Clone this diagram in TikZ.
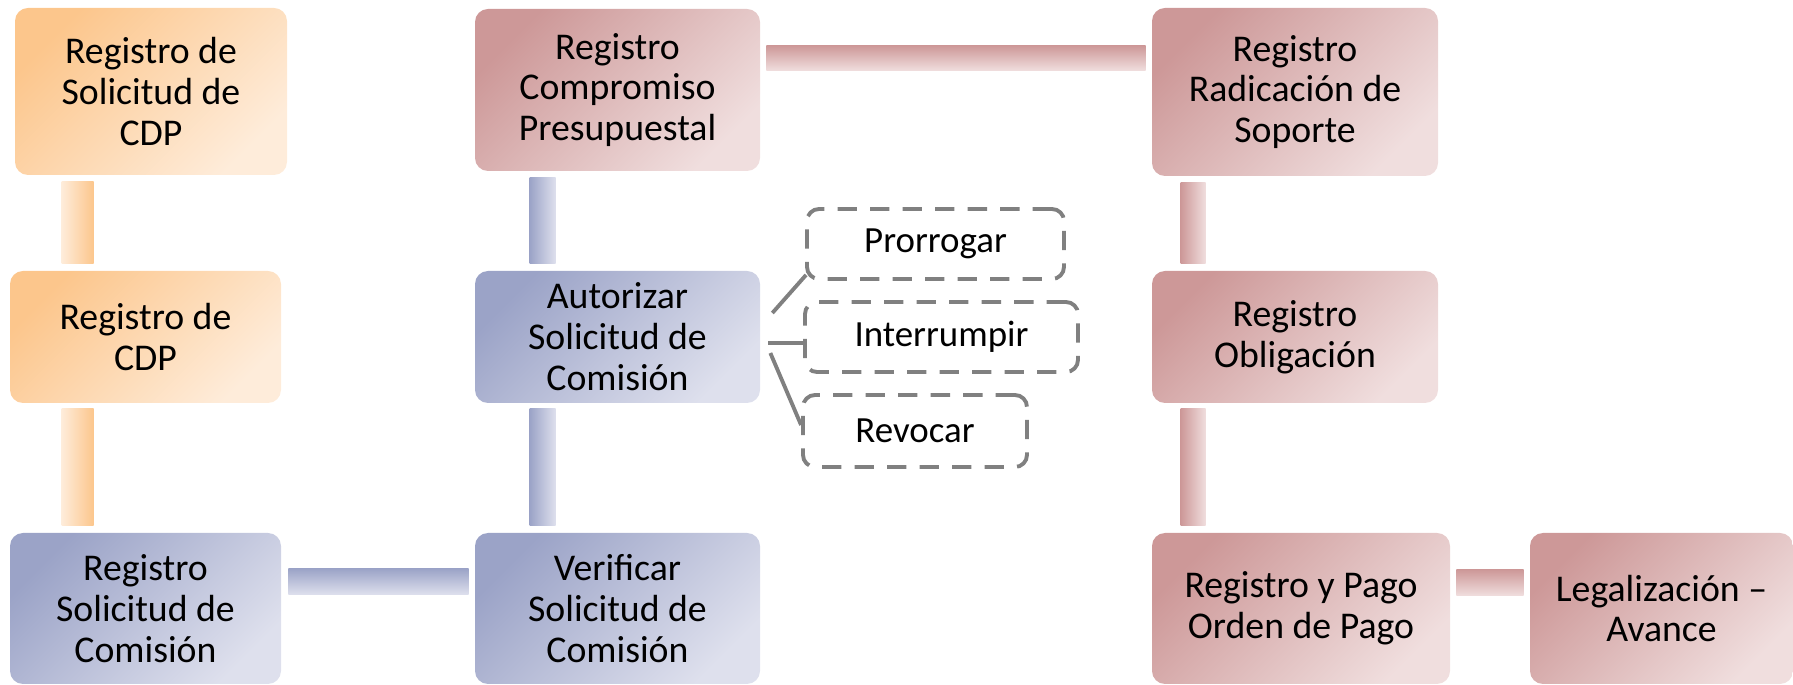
\documentclass[tikz,border=0pt]{standalone}
\usepackage{fontspec}
\setmainfont{Carlito}
\usetikzlibrary{calc}

\definecolor{orgdark}{RGB}{252,198,140}
\definecolor{orglight}{RGB}{254,236,218}
\definecolor{bludark}{RGB}{155,163,199}
\definecolor{blulight}{RGB}{222,224,237}
\definecolor{rosdark}{RGB}{205,152,152}
\definecolor{roslight}{RGB}{240,222,222}
\definecolor{dashgray}{RGB}{128,128,128}

\begin{document}
\begin{tikzpicture}[x=0.02cm, y=-0.02cm,
    stepbox/.style={rounded corners=0.26cm, inner sep=0pt, align=center,
        font=\fontsize{21.5}{23.3}\selectfont},
    orgbox/.style={stepbox, top color=orgdark, bottom color=orglight, shading angle=45},
    blubox/.style={stepbox, top color=bludark, bottom color=blulight, shading angle=45},
    rosbox/.style={stepbox, top color=rosdark, bottom color=roslight, shading angle=45},
    optbox/.style={draw=dashgray, line width=2.2pt, dash pattern=on 11pt off 7.5pt,
        rounded corners=0.24cm, inner sep=0pt, font=\fontsize{21}{23}\selectfont},
    optline/.style={draw=dashgray, line width=2.2pt},
    orgbar/.style={left color=orglight, right color=orgdark},
    bluvbar/.style={left color=bludark, right color=blulight},
    rosvbar/.style={left color=rosdark, right color=roslight},
    bluhbar/.style={top color=bludark, bottom color=blulight},
    roshbar/.style={top color=rosdark, bottom color=roslight}
]
    % Definitions
    \def \px{0.02cm}
    \useasboundingbox (0,0) rectangle (1793,685);
    %%%
    %%% Process boxes
    %%%
    % First column
    \node[orgbox, minimum width=272*\px, minimum height=167*\px] (solcdp) at (151,91.5) {Registro de\\Solicitud de\\CDP};
    \node[orgbox, minimum width=271*\px, minimum height=132*\px] (regcdp) at (145.5,337) {Registro de\\CDP};
    \node[blubox, minimum width=271*\px, minimum height=151*\px] (solcom) at (145.5,608.5) {Registro\\Solicitud de\\Comisión};
    % Second column
    \node[rosbox, minimum width=285*\px, minimum height=162*\px] (compro) at (617.5,90) {Registro\\Compromiso\\Presupuestal};
    \node[blubox, minimum width=285*\px, minimum height=132*\px] (autsol) at (617.5,337) {Autorizar\\Solicitud de\\Comisión};
    \node[blubox, minimum width=285*\px, minimum height=151*\px] (versol) at (617.5,608.5) {Verificar\\Solicitud de\\Comisión};
    % Third column
    \node[rosbox, minimum width=286*\px, minimum height=168*\px] (radsop) at (1295,92) {Registro\\Radicación de\\Soporte};
    \node[rosbox, minimum width=286*\px, minimum height=132*\px] (regobl) at (1295,337) {Registro\\Obligación};
    \node[rosbox, minimum width=298*\px, minimum height=151*\px] (regpag) at (1301,608.5) {Registro y Pago\\Orden de Pago};
    \node[rosbox, minimum width=263*\px, minimum height=151*\px] (legava) at (1661.5,608.5) {Legalización –\\Avance};
    %%%
    %%% Bars between boxes
    %%%
    \shade[orgbar] ($(solcdp.south -| regcdp.west)+(52,6)$) rectangle ($(regcdp.north west)+(84,-7)$);
    \shade[orgbar] ($(regcdp.south west)+(52,5)$) rectangle ($(solcom.north west)+(84,-7)$);
    \shade[bluhbar] ($(solcom.north east)+(7,36)$) rectangle ($(versol.north west)+(-6,62)$);
    \shade[bluvbar] ($(versol.north west)+(55,-7)$) rectangle ($(autsol.south west)+(81,5)$);
    \shade[bluvbar] ($(autsol.north west)+(55,-7)$) rectangle ($(compro.south west)+(81,6)$);
    \shade[roshbar] ($(compro.north east)+(6,37)$) rectangle ($(radsop.north west)+(-6,63)$);
    \shade[rosvbar] ($(radsop.south west)+(29,6)$) rectangle ($(regobl.north west)+(54,-7)$);
    \shade[rosvbar] ($(regobl.south west)+(29,5)$) rectangle ($(regpag.north west)+(54,-7)$);
    \shade[roshbar] ($(regpag.north east)+(6,37)$) rectangle ($(legava.north west)+(-6,63)$);
    %%%
    %%% Options of the authorisation
    %%%
    \node[optbox, minimum width=257*\px, minimum height=70*\px] (prorro) at (935.5,244) {Prorrogar};
    \node[optbox, minimum width=273*\px, minimum height=70*\px] (interr) at (941.5,337) {Interrumpir};
    \node[optbox, minimum width=224*\px, minimum height=72*\px] (revoca) at (915,431) {Revocar};
    \draw[optline] ($(autsol.east)+(12,-24)$) -- ($(prorro.south west)+(1,-6)$);
    \draw[optline] ($(autsol.east)+(8,6)$) -- ($(interr.west)+(0,6)$);
    \draw[optline] ($(autsol.east)+(10,16)$) -- ($(revoca.west)+(0,-6)$);
\end{tikzpicture}
\end{document}
